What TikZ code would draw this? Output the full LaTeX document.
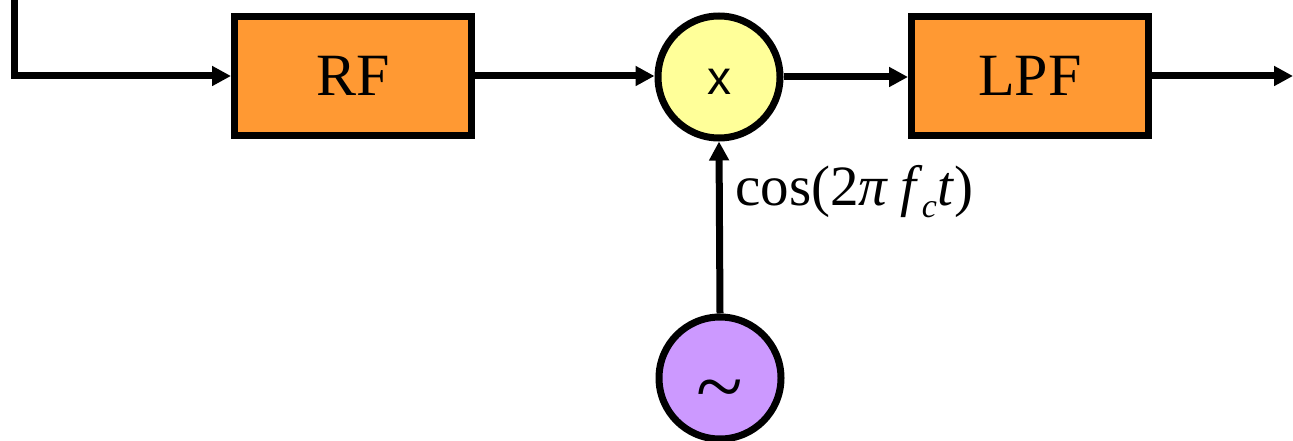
\documentclass[tikz,border=0pt]{standalone}
\usepackage{fontspec}
\setmainfont{Liberation Serif}
\newfontfamily\sansx{Liberation Sans}
\usetikzlibrary{arrows.meta}
\definecolor{boxorange}{RGB}{255,153,51}
\definecolor{mixyellow}{RGB}{255,255,153}
\definecolor{oscpurple}{RGB}{204,153,255}
\tikzset{
  blockbox/.style={draw=black, line width=7pt, fill=boxorange, rectangle, minimum width=237pt, minimum height=119pt, inner sep=0pt, font=\fontsize{60}{60}\selectfont},
  roundbox/.style={draw=black, line width=7pt, circle, minimum size=122pt, inner sep=0pt},
  conn/.style={line width=7pt, -{Triangle[length=19pt,width=19pt]}, line join=miter},
}
\begin{document}
\begin{tikzpicture}[x=1pt,y=-1pt]
\useasboundingbox (0,0) rectangle (1293,441);
\node[blockbox] (rf) at (353,76) {RF};
\node[blockbox] (lpf) at (1030,76) {LPF};
\node[roundbox, fill=mixyellow, font=\sansx\fontsize{48}{48}\selectfont, text height=0pt, text depth=0pt] (mix) at (719,77) {\raisebox{-18pt}{x}};
\node[roundbox, fill=oscpurple, font=\fontsize{86}{86}\selectfont, text height=0pt, text depth=0pt] (osc) at (720,378) {\raisebox{-37pt}{\textasciitilde}};
\coordinate (in) at (14,-10);
\coordinate (out) at (1293,76);
\draw[conn] (in) |- (rf.west);
\draw[conn] (rf.east) -- (rf.east -| mix.west);
\draw[conn] (mix.east) -- (mix.east -| lpf.west);
\draw[conn] (lpf.east) -- (out);
\draw[conn] (osc.north) -- (mix.south);
\node[anchor=base west, inner sep=0pt, font=\fontsize{57}{57}\selectfont] (lbl) at (735,205) {cos(2\textit{π}\kern12pt\textit{f}\kern-1pt\raisebox{-12pt}{\fontsize{34}{34}\selectfont\textit{c}}\kern0pt\textit{t})};
\end{tikzpicture}
\end{document}
